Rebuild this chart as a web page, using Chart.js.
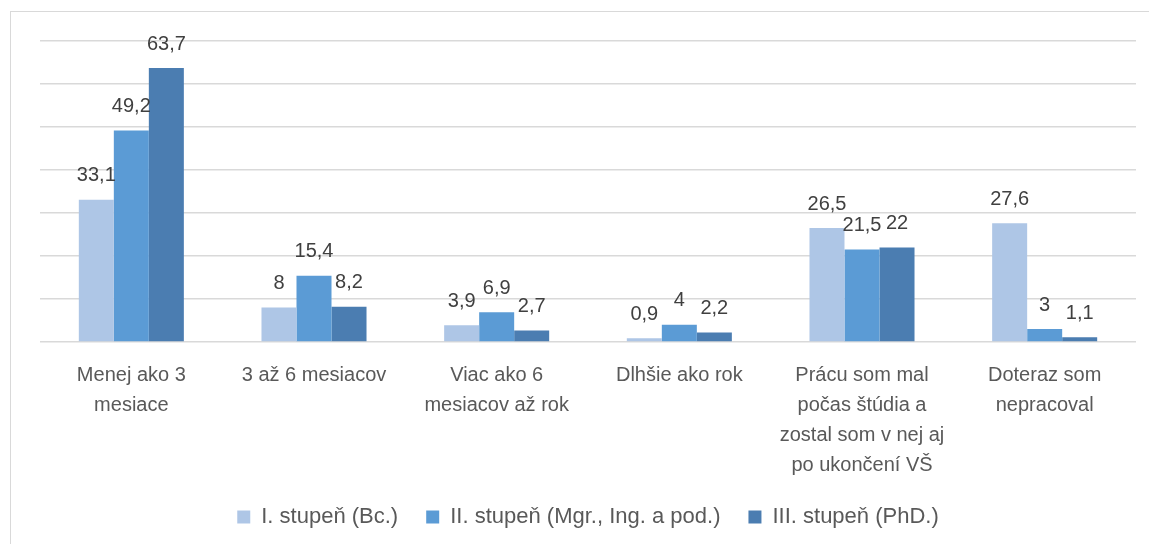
<!DOCTYPE html>
<html>
<head>
<meta charset="utf-8">
<script src="https://cdn.jsdelivr.net/npm/chart.js@4/dist/chart.umd.min.js"></script>
<style>
  html, body { margin: 0; padding: 0; background: #fff; overflow: hidden; }
  #wrap { position: absolute; left: 0; top: 0; width: 1149px; height: 544px; }
  #frame { position: absolute; left: 10px; top: 11px; width: 2000px; height: 2000px;
           border-top: 1px solid #d9d9d9; border-left: 1px solid #d9d9d9; }
</style>
</head>
<body>
<div id="frame"></div>
<div id="wrap"><canvas id="chart" width="1149" height="544"></canvas></div>
<script>
const categories = [
  ["Menej ako 3", "mesiace"],
  ["3 až 6 mesiacov"],
  ["Viac ako 6", "mesiacov až rok"],
  ["Dlhšie ako rok"],
  ["Prácu som mal", "počas štúdia a", "zostal som v nej aj", "po ukončení VŠ"],
  ["Doteraz som", "nepracoval"]
];
const seriesNames = ["I. stupeň (Bc.)", "II. stupeň (Mgr., Ing. a pod.)", "III. stupeň (PhD.)"];
const bachelor = [33.1, 8, 3.9, 0.9, 26.5, 27.6];
const master = [49.2, 15.4, 6.9, 4, 21.5, 3];
const phd = [63.7, 8.2, 2.7, 2.2, 22, 1.1];
const colors = ["#AEC6E6", "#5B9BD5", "#4B7DB1"];

const FONT = "'Liberation Sans', Arial, sans-serif";

// value labels above each bar, decimal comma
const barLabels = {
  id: "barLabels",
  afterDatasetsDraw(chart) {
    const ctx = chart.ctx;
    ctx.save();
    ctx.font = "20px " + FONT;
    ctx.fillStyle = "#404040";
    ctx.textAlign = "center";
    ctx.textBaseline = "middle";
    chart.data.datasets.forEach((ds, i) => {
      chart.getDatasetMeta(i).data.forEach((bar, j) => {
        ctx.fillText(String(ds.data[j]).replace(".", ","), bar.x, bar.y - 24);
      });
    });
    ctx.restore();
  }
};

new Chart(document.getElementById("chart").getContext("2d"), {
  type: "bar",
  data: {
    labels: categories,
    datasets: [
      { label: seriesNames[0], data: bachelor, backgroundColor: colors[0] },
      { label: seriesNames[1], data: master, backgroundColor: colors[1] },
      { label: seriesNames[2], data: phd, backgroundColor: colors[2] }
    ]
  },
  options: {
    responsive: false,
    animation: false,
    datasets: { bar: { categoryPercentage: 0.575, barPercentage: 1 } },
    layout: { padding: { left: 40, right: 13, top: 41, bottom: 6 } },
    plugins: {
      legend: {
        position: "bottom",
        labels: {
          boxWidth: 13, boxHeight: 13, padding: 28,
          color: "#595959",
          font: { family: FONT, size: 22 }
        }
      },
      tooltip: { enabled: false }
    },
    scales: {
      x: {
        grid: { display: false, drawTicks: false },
        border: { display: false },
        ticks: {
          autoSkip: false, maxRotation: 0, padding: 18,
          color: "#595959",
          font: { family: FONT, size: 20, lineHeight: 1.5 }
        },
        afterFit(scale) { scale.height = 136; }
      },
      y: {
        min: 0, max: 70,
        ticks: { display: false, stepSize: 10 },
        grid: { color: "#d9d9d9", lineWidth: 1.5, drawTicks: false },
        border: { display: false }
      }
    }
  },
  plugins: [barLabels]
});
</script>
</body>
</html>
